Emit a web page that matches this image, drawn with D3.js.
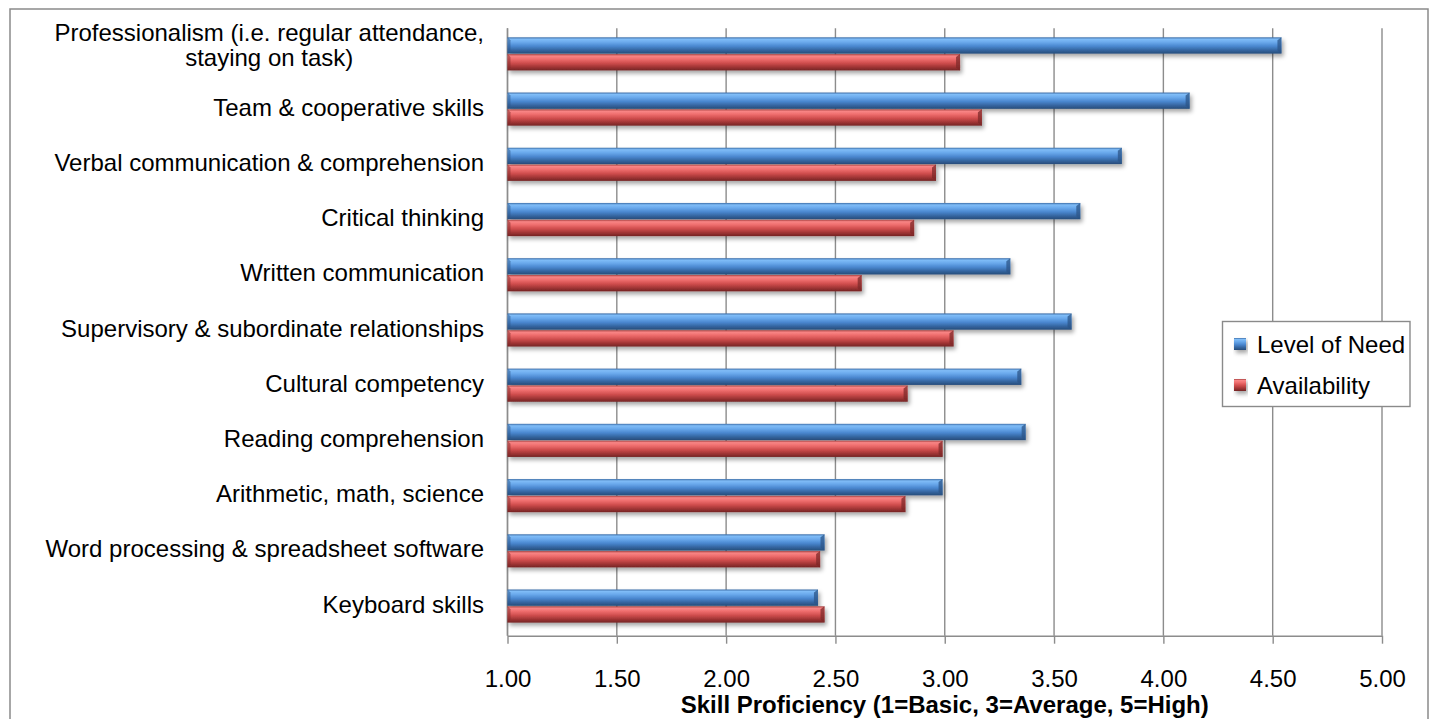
<!DOCTYPE html>
<html>
<head>
<meta charset="utf-8">
<script src="https://cdn.jsdelivr.net/npm/d3@7"></script>
<style>
  html, body { margin: 0; padding: 0; background: #fff; }
  svg { display: block; font-family: "Liberation Sans", Arial, sans-serif; }
</style>
</head>
<body>
<svg id="chart" width="1435" height="719"></svg>
<script>
// Skill categories, top to bottom ("|" marks a line break)
const categories = [
  "Professionalism (i.e. regular attendance,|staying on task)",
  "Team & cooperative skills",
  "Verbal communication & comprehension",
  "Critical thinking",
  "Written communication",
  "Supervisory & subordinate relationships",
  "Cultural competency",
  "Reading comprehension",
  "Arithmetic, math, science",
  "Word processing & spreadsheet software",
  "Keyboard skills"
];
const seriesNames = ["Level of Need", "Availability"];
const levelOfNeed  = [4.54, 4.12, 3.81, 3.62, 3.30, 3.58, 3.35, 3.37, 2.99, 2.45, 2.42];
const availability = [3.07, 3.17, 2.96, 2.86, 2.62, 3.04, 2.83, 2.99, 2.82, 2.43, 2.45];
const xTicks = [1.00, 1.50, 2.00, 2.50, 3.00, 3.50, 4.00, 4.50, 5.00];
const xTitle = "Skill Proficiency (1=Basic, 3=Average, 5=High)";

const svg = d3.select("#chart");
const plot = { left: 507.5, right: 1382, top: 28.3, bottom: 635.7 };

const x = d3.scaleLinear().domain([1, 5]).range([plot.left, plot.right]);
const y = d3.scaleBand().domain(d3.range(categories.length)).range([plot.top, plot.bottom]);
const bw = y.bandwidth();
const ySeries = d3.scaleBand().domain(seriesNames).range([bw * 0.163, bw * 0.763]).paddingInner(0.03);

const rows = categories.map((c, i) => ({ i, c, values: [levelOfNeed[i], availability[i]] }));

// gradients and shadow
const defs = svg.append("defs");
const palettes = {
  "Level of Need": [["0%", "#3d6ea8"], ["12%", "#7fbcf7"], ["30%", "#6aa9ec"], ["55%", "#4a87cf"], ["80%", "#34649e"], ["100%", "#274c7a"]],
  "Availability":  [["0%", "#a84040"], ["12%", "#f88585"], ["30%", "#ef6e6e"], ["55%", "#cf4d4d"], ["80%", "#9e3434"], ["100%", "#742424"]]
};
const gradId = name => "g" + seriesNames.indexOf(name);
seriesNames.forEach(name => {
  const g = defs.append("linearGradient").attr("id", gradId(name))
    .attr("x1", 0).attr("y1", 0).attr("x2", 0).attr("y2", 1);
  palettes[name].forEach(([o, col]) => g.append("stop").attr("offset", o).attr("stop-color", col));
});
const shadow = defs.append("filter").attr("id", "shadow")
  .attr("x", "-5%").attr("y", "-40%").attr("width", "115%").attr("height", "200%");
shadow.append("feDropShadow").attr("dx", 2).attr("dy", 3).attr("stdDeviation", 2.2)
  .attr("flood-color", "#000").attr("flood-opacity", 0.35);

// outer frame
svg.append("rect").attr("x", 10).attr("y", 9).attr("width", 1418).attr("height", 730)
  .attr("fill", "#fff").attr("stroke", "#8a8a8a").attr("stroke-width", 1.5);

// vertical gridlines
svg.append("g").selectAll("line").data(xTicks).join("line")
  .attr("x1", d => x(d)).attr("x2", d => x(d))
  .attr("y1", plot.top).attr("y2", plot.bottom)
  .attr("stroke", "#8c8c8c").attr("stroke-width", 1.4);

// x axis
const xAxis = svg.append("g").attr("transform", `translate(0,${plot.bottom})`)
  .call(d3.axisBottom(x).tickValues(xTicks).tickFormat(d3.format(".2f")).tickSize(8).tickSizeOuter(0));
xAxis.select(".domain").attr("stroke", "#8c8c8c").attr("stroke-width", 1.4);
xAxis.selectAll(".tick line").attr("stroke", "#8c8c8c").attr("stroke-width", 1.4);
xAxis.selectAll(".tick text").attr("y", 51).attr("dy", 0)
  .attr("font-size", 24).attr("fill", "#000").attr("font-family", "Liberation Sans, Arial, sans-serif");

// left axis line
svg.append("line").attr("x1", plot.left).attr("x2", plot.left)
  .attr("y1", plot.top).attr("y2", plot.bottom)
  .attr("stroke", "#8c8c8c").attr("stroke-width", 1.4);

// bars
const groups = svg.append("g").selectAll("g").data(rows).join("g")
  .attr("transform", d => `translate(0,${y(d.i)})`);
groups.selectAll("g.bar").data(d => d.values.map((v, k) => ({ v, s: seriesNames[k] })))
  .join("g").attr("class", "bar").attr("filter", "url(#shadow)")
  .each(function (d) {
    const g = d3.select(this);
    const x0 = x(1), x1 = x(d.v), top = ySeries(d.s), h = ySeries.bandwidth();
    g.append("rect").attr("x", x0).attr("y", top).attr("width", x1 - x0).attr("height", h)
      .attr("fill", `url(#${gradId(d.s)})`);
    // bevelled end caps
    const dark = d.s === "Level of Need" ? "#2c5688" : "#7e2a2a";
    g.append("path")
      .attr("d", `M${x1 - 4},${top + 3} L${x1},${top} L${x1},${top + h} L${x1 - 4},${top + h - 3} Z`)
      .attr("fill", dark).attr("opacity", 0.75);
    g.append("path")
      .attr("d", `M${x0},${top} L${x0 + 3},${top + 3} L${x0 + 3},${top + h - 3} L${x0},${top + h} Z`)
      .attr("fill", dark).attr("opacity", 0.5);
  });

// category labels (wrapped labels are one text element with centred lines)
const labelRight = 484;
rows.forEach(d => {
  const lines = d.c.split("|");
  const cy = y(d.i) + bw / 2;
  const t = svg.append("text").attr("font-size", 24).attr("fill", "#000");
  if (lines.length === 1) {
    t.attr("x", labelRight).attr("y", cy + 4.5).attr("text-anchor", "end").text(lines[0]);
  } else {
    t.attr("text-anchor", "middle");
    const s1 = t.append("tspan").attr("y", cy - 15).text(lines[0]);
    const w = s1.node().getComputedTextLength();
    s1.attr("x", labelRight - w / 2);
    t.append("tspan").attr("x", labelRight - w / 2).attr("y", cy + 10).text(lines[1]);
  }
});

// axis title
svg.append("text").attr("x", (plot.left + plot.right) / 2).attr("y", 713)
  .attr("text-anchor", "middle").attr("font-size", 24).attr("font-weight", "bold")
  .attr("fill", "#000").text(xTitle);

// legend
const legend = svg.append("g");
legend.append("rect").attr("x", 1222.5).attr("y", 321.5).attr("width", 187.5).attr("height", 85)
  .attr("fill", "#fff").attr("stroke", "#8a8a8a").attr("stroke-width", 1.4);
const ly = d3.scalePoint().domain(seriesNames).range([353, 394]);
const li = legend.selectAll("g").data(seriesNames).join("g");
li.append("rect").attr("x", 1234).attr("y", d => ly(d) - 15).attr("width", 12).attr("height", 12)
  .attr("fill", d => `url(#${gradId(d)})`).attr("filter", "url(#shadow)");
li.append("text").attr("x", 1257).attr("y", d => ly(d)).attr("font-size", 24).attr("fill", "#000").text(d => d);
</script>
</body>
</html>
